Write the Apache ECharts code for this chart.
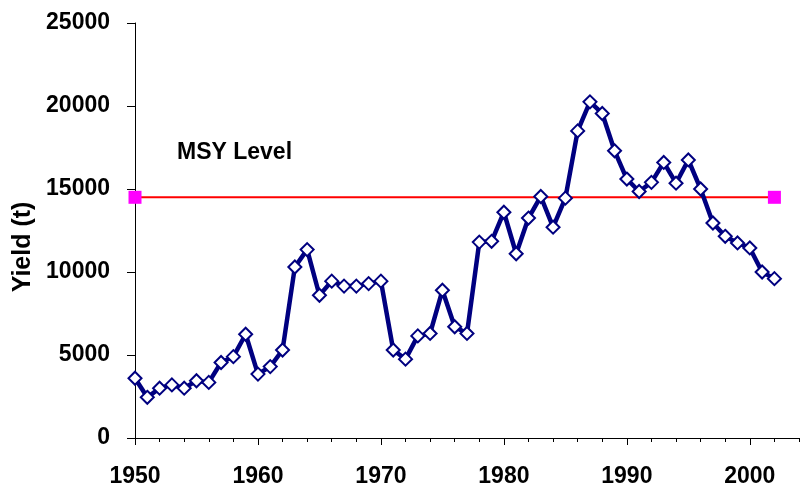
<!DOCTYPE html>
<html>
<head>
<meta charset="utf-8">
<script src="https://cdn.jsdelivr.net/npm/echarts@6/dist/echarts.min.js"></script>
<style>
html,body{margin:0;padding:0;background:#fff;}
#chart{width:806px;height:488px;}
</style>
</head>
<body>
<div id="chart"></div>
<script>
const years = [1950,1951,1952,1953,1954,1955,1956,1957,1958,1959,
  1960,1961,1962,1963,1964,1965,1966,1967,1968,1969,
  1970,1971,1972,1973,1974,1975,1976,1977,1978,1979,
  1980,1981,1982,1983,1984,1985,1986,1987,1988,1989,
  1990,1991,1992,1993,1994,1995,1996,1997,1998,1999,
  2000,2001,2002];
const yields = [3600,2450,3000,3200,3000,3450,3350,4550,4900,6250,
  3850,4300,5300,10300,11350,8600,9450,9150,9150,9300,
  9450,5300,4750,6150,6300,8900,6700,6300,11800,11850,
  13600,11100,13250,14550,12700,14450,18500,20250,19550,17300,
  15600,14850,15400,16600,15350,16750,15000,12950,12150,11750,
  11450,10000,9600];
const msyYears = [1950, 2002];
const msyLevel = 14500;
const yTicks = [0,5000,10000,15000,20000,25000];
const xMajorTicks = [1950,1960,1970,1980,1990,2000];

const FONT = 'Liberation Sans, Arial, sans-serif';
const chart = echarts.init(document.getElementById('chart'), null, {renderer:'canvas'});
chart.setOption({
  animation:false,
  backgroundColor:'#ffffff',
  grid:{left:135,right:7,top:23,bottom:48,containLabel:false},
  xAxis:[{
    type:'value', min:1950, max:2004, interval:2,
    axisLine:{show:true,onZero:false,lineStyle:{color:'#000',width:1}},
    axisTick:{show:true,length:4,lineStyle:{color:'#000',width:1}},
    splitLine:{show:false},
    axisLabel:{margin:27,color:'#000',fontFamily:FONT,fontWeight:'bold',fontSize:23,
      formatter:function(v){return xMajorTicks.indexOf(v)>=0?String(v):'';}}
  },{
    type:'value', min:1950, max:2004, position:'bottom',
    axisLine:{show:false},
    axisTick:{show:true,length:7,customValues:xMajorTicks,lineStyle:{color:'#000',width:1}},
    axisLabel:{show:false},
    splitLine:{show:false}
  }],
  yAxis:{
    type:'value', min:yTicks[0], max:yTicks[yTicks.length-1], interval:5000,
    axisLine:{show:true,onZero:false,lineStyle:{color:'#000',width:1}},
    axisTick:{show:true,length:8,lineStyle:{color:'#000',width:1}},
    splitLine:{show:false},
    axisLabel:{margin:25,color:'#000',fontFamily:FONT,fontWeight:'bold',fontSize:23,
      formatter:function(v){return String(v);}}
  },
  graphic:[
    {type:'text',x:177,y:153,style:{text:'MSY Level',fill:'#000',font:'bold 23px '+FONT,textAlign:'left',textVerticalAlign:'middle'}},
    {type:'text',x:23,y:247,rotation:Math.PI/2,style:{text:'Yield (t)',fill:'#000',font:'bold 25px '+FONT,textAlign:'center',textVerticalAlign:'middle'}}
  ],
  series:[{
    type:'line',
    data:msyYears.map(function(y){return [y,msyLevel];}),
    lineStyle:{color:'#ff0000',width:2},
    symbol:'rect',symbolSize:13,
    itemStyle:{color:'#ff00ff',borderWidth:0},
    z:2
  },{
    type:'line',
    data:years.map(function(y,i){return [y,yields[i]];}),
    lineStyle:{color:'#000080',width:4.5},
    symbol:'diamond',symbolSize:13,showAllSymbol:true,
    itemStyle:{color:'#ffffff',borderColor:'#000080',borderWidth:2},
    z:3
  }]
});
</script>
</body>
</html>
